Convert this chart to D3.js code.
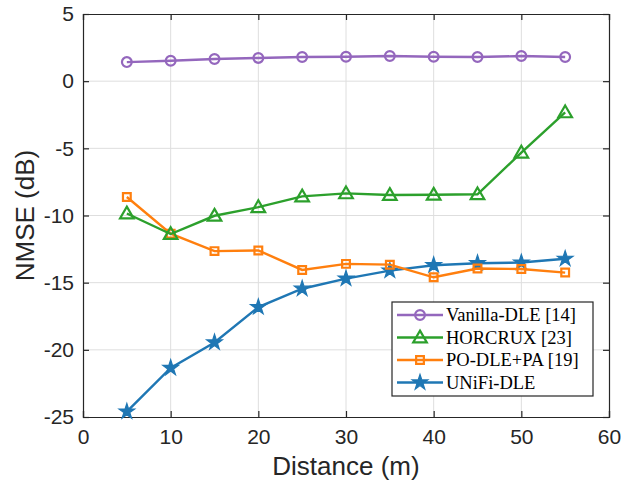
<!DOCTYPE html>
<html>
<head>
<meta charset="utf-8">
<script src="https://cdn.jsdelivr.net/npm/d3@7"></script>
<style>
  html, body { margin: 0; padding: 0; background: #fff; }
  #chart { width: 631px; height: 483px; }
</style>
</head>
<body>
<div id="chart"></div>
<script>
// distances (m)
const distances = [5, 10, 15, 20, 25, 30, 35, 40, 45, 50, 55];

// NMSE (dB) per method
const vanillaDLE = [1.42, 1.52, 1.65, 1.73, 1.8, 1.82, 1.87, 1.82, 1.8, 1.87, 1.8];
const horcrux = [-9.85, -11.38, -10.02, -9.38, -8.58, -8.35, -8.47, -8.45, -8.42, -5.32, -2.32];
const poDlePa = [-8.62, -11.35, -12.65, -12.6, -14.05, -13.6, -13.66, -14.6, -13.95, -13.98, -14.25];
const unifiDLE = [-24.6, -21.35, -19.45, -16.82, -15.45, -14.7, -14.1, -13.7, -13.55, -13.5, -13.22];

const xTicks = [0, 10, 20, 30, 40, 50, 60];
const yTicks = [-25, -20, -15, -10, -5, 0, 5];

const series = [
    { name: "Vanilla-DLE [14]", values: vanillaDLE, color: "#9467bd", marker: "circle" },
    { name: "HORCRUX [23]", values: horcrux, color: "#2ca02c", marker: "triangle" },
    { name: "PO-DLE+PA [19]", values: poDlePa, color: "#ff7f0e", marker: "square" },
    { name: "UNiFi-DLE", values: unifiDLE, color: "#1f77b4", marker: "star" },
];

const W = 631, H = 483;
const margin = { top: 14, right: 22, bottom: 66, left: 83 };
const width = W - margin.left - margin.right;
const height = H - margin.top - margin.bottom;

const svg = d3.select("#chart").append("svg")
    .attr("width", W)
    .attr("height", H);

const g = svg.append("g")
    .attr("transform", `translate(${margin.left},${margin.top})`);

const x = d3.scaleLinear().domain([0, 60]).range([0, width]);
const y = d3.scaleLinear().domain([-25, 5]).range([height, 0]);

// grid
g.append("g").selectAll("line").data(xTicks.slice(1, -1)).join("line")
    .attr("x1", d => x(d)).attr("x2", d => x(d))
    .attr("y1", 0).attr("y2", height)
    .attr("stroke", "#dedede").attr("stroke-width", 1);
g.append("g").selectAll("line").data(yTicks.slice(1, -1)).join("line")
    .attr("y1", d => y(d)).attr("y2", d => y(d))
    .attr("x1", 0).attr("x2", width)
    .attr("stroke", "#dedede").attr("stroke-width", 1);

// axes (ticks inward, full box)
const tickFont = "Liberation Sans, Arial, sans-serif";
const styleAxis = sel => {
    sel.select(".domain").attr("stroke", "#262626").attr("stroke-width", 1.2);
    sel.selectAll(".tick line").attr("stroke", "#262626").attr("stroke-width", 1.2);
    sel.selectAll("text").attr("fill", "#262626")
        .style("font-family", tickFont).style("font-size", "21px");
};

g.append("g").attr("transform", `translate(0,${height})`)
    .call(d3.axisBottom(x).tickValues(xTicks).tickSize(-6).tickPadding(12).tickFormat(d3.format("d")))
    .call(styleAxis);
g.append("g")
    .call(d3.axisLeft(y).tickValues(yTicks).tickSize(-6).tickPadding(9).tickFormat(d => String(d).replace("−", "-")))
    .call(styleAxis);
g.append("g")
    .call(d3.axisTop(x).tickValues(xTicks).tickSize(-6).tickFormat(""))
    .call(styleAxis);
g.append("g").attr("transform", `translate(${width},0)`)
    .call(d3.axisRight(y).tickValues(yTicks).tickSize(-6).tickFormat(""))
    .call(styleAxis);

// axis labels
svg.append("text")
    .attr("x", margin.left + width / 2)
    .attr("y", 475)
    .attr("text-anchor", "middle")
    .style("font-family", tickFont).style("font-size", "26px").attr("fill", "#262626")
    .text("Distance (m)");
svg.append("text")
    .attr("transform", `translate(34,${margin.top + height / 2}) rotate(-90)`)
    .attr("text-anchor", "middle")
    .style("font-family", tickFont).style("font-size", "26px").attr("fill", "#262626")
    .text("NMSE (dB)");

// markers
const symbols = {
    circle: d3.symbol().type(d3.symbolCircle).size(75),
    triangle: d3.symbol().type(d3.symbolTriangle).size(80),
    square: d3.symbol().type(d3.symbolSquare).size(60),
    star: d3.symbol().type(d3.symbolStar).size(75),
};

function drawMarker(sel, s) {
    const m = sel.append("path")
        .attr("d", symbols[s.marker]())
        .attr("stroke", s.color)
        .attr("stroke-width", s.marker === "star" ? 1.2 : 2.2)
        .attr("fill", s.marker === "star" ? s.color : "none");
    if (s.marker === "triangle") m.attr("transform", "translate(0,1)");
    return m;
}

const line = d3.line().x((d, i) => x(distances[i])).y(d => y(d));

series.slice().reverse().forEach(s => {
    const sg = g.append("g");
    sg.append("path")
        .datum(s.values)
        .attr("d", line)
        .attr("fill", "none")
        .attr("stroke", s.color)
        .attr("stroke-width", 2.4);
    s.values.forEach((v, i) => {
        const mg = sg.append("g").attr("transform", `translate(${x(distances[i])},${y(v)})`);
        drawMarker(mg, s);
    });
});

// legend
const legend = svg.append("g").attr("transform", "translate(392,302)");
legend.append("rect")
    .attr("width", 201).attr("height", 94)
    .attr("fill", "#fff").attr("stroke", "#262626").attr("stroke-width", 1.2);
series.forEach((s, i) => {
    const row = legend.append("g").attr("transform", `translate(0,${13 + i * 22.5})`);
    row.append("line")
        .attr("x1", 5).attr("x2", 51)
        .attr("stroke", s.color).attr("stroke-width", 2.4);
    drawMarker(row.append("g").attr("transform", "translate(28,0)"), s);
    row.append("text")
        .attr("x", 54).attr("y", 6)
        .style("font-family", "Liberation Serif, Times New Roman, serif")
        .style("font-size", "18.5px").attr("fill", "#000")
        .text(s.name);
});
</script>
</body>
</html>
